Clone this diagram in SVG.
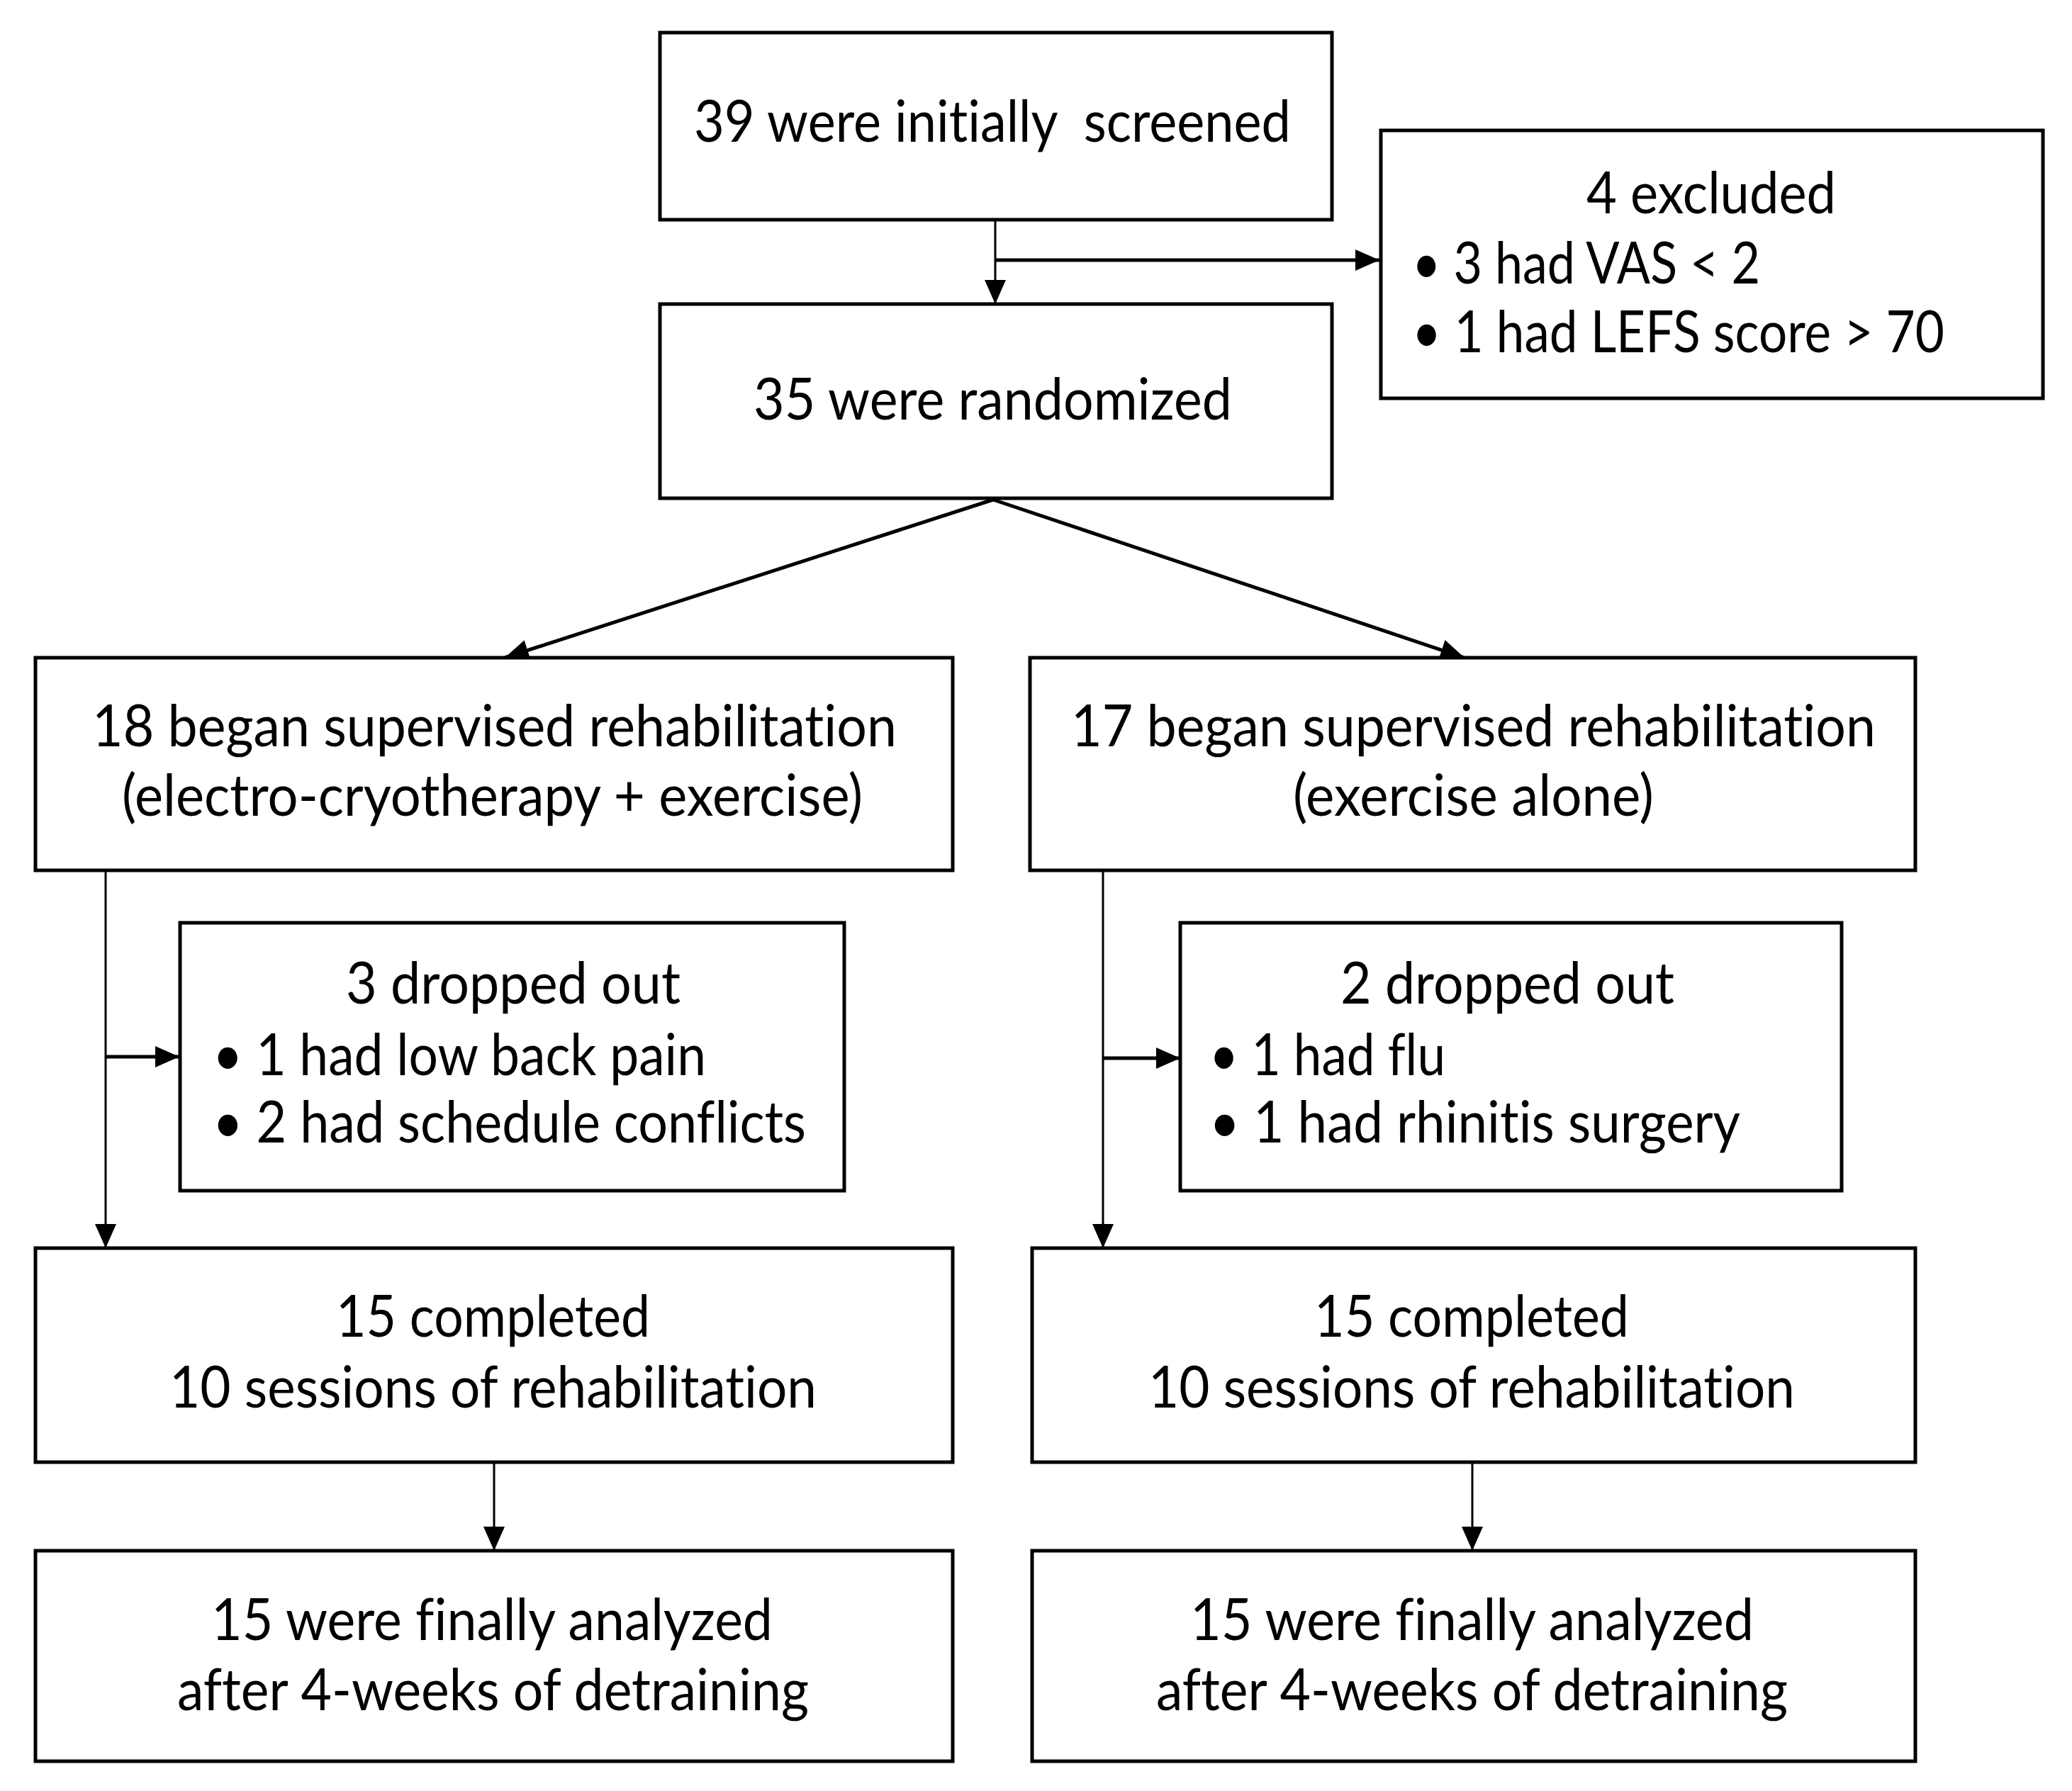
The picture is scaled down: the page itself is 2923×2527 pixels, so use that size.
<svg xmlns="http://www.w3.org/2000/svg" width="2923" height="2527" viewBox="0 0 2923 2527">
<style>
.box{fill:#fff;stroke:#000;stroke-width:5}
.t{font-family:Lato,"Open Sans","Liberation Sans",sans-serif;font-size:81px;fill:#000;font-variant-ligatures:none;font-feature-settings:"liga" 0,"dlig" 0}
.thin{fill:none;stroke:#000;stroke-width:3}
.thick{fill:none;stroke:#000;stroke-width:5}
</style>
<defs>
<marker id="ah" markerUnits="userSpaceOnUse" markerWidth="34" markerHeight="30" viewBox="0 0 34 30" refX="34" refY="15" orient="auto">
<path d="M0,0 L34,15 L0,30 z" fill="#000"/>
</marker>
</defs>
<rect width="2923" height="2527" fill="#fff"/>
<g id="connectors">
<path class="thin" d="M1404,310 V429" marker-end="url(#ah)"/>
<path class="thick" d="M1404,367 H1946" marker-end="url(#ah)"/>
<path class="thick" d="M1401,705 L712,928" marker-end="url(#ah)"/>
<path class="thick" d="M1401,705 L2066,928" marker-end="url(#ah)"/>
<path class="thin" d="M149,1228 V1761" marker-end="url(#ah)"/>
<path class="thick" d="M149,1491 H253" marker-end="url(#ah)"/>
<path class="thin" d="M1556,1228 V1761" marker-end="url(#ah)"/>
<path class="thick" d="M1556,1493 H1665" marker-end="url(#ah)"/>
<path class="thin" d="M697,2063 V2188" marker-end="url(#ah)"/>
<path class="thin" d="M2077,2063 V2188" marker-end="url(#ah)"/>
</g>
<g id="screened">
<rect class="box" x="931" y="46" width="948" height="264"/>
<text class="t" x="979" y="200" textLength="842" lengthAdjust="spacingAndGlyphs">39 were initially &#160;screened</text>
</g>
<g id="excluded">
<rect class="box" x="1948" y="184" width="934" height="378"/>
<text class="t" x="2238" y="301" textLength="352" lengthAdjust="spacingAndGlyphs">4 excluded</text>
<text class="t" x="1992" y="400" textLength="491" lengthAdjust="spacingAndGlyphs">• 3 had VAS &lt; 2</text>
<text class="t" x="1992" y="497" textLength="751" lengthAdjust="spacingAndGlyphs">• 1 had LEFS score &gt; 70</text>
</g>
<g id="randomized">
<rect class="box" x="931" y="429" width="948" height="274"/>
<text class="t" x="1063" y="592" textLength="675" lengthAdjust="spacingAndGlyphs">35 were randomized</text>
</g>
<g id="group1">
<rect class="box" x="50" y="928" width="1294" height="300"/>
<text class="t" x="130" y="1053" textLength="1135" lengthAdjust="spacingAndGlyphs">18 began supervised rehabilitation</text>
<text class="t" x="172" y="1151" textLength="1045" lengthAdjust="spacingAndGlyphs">(electro-cryotherapy + exercise)</text>
</g>
<g id="group2">
<rect class="box" x="1453" y="928" width="1249" height="300"/>
<text class="t" x="1511" y="1053" textLength="1135" lengthAdjust="spacingAndGlyphs">17 began supervised rehabilitation</text>
<text class="t" x="1824" y="1151" textLength="509" lengthAdjust="spacingAndGlyphs">(exercise alone)</text>
</g>
<g id="dropout1">
<rect class="box" x="254" y="1302" width="937" height="378"/>
<text class="t" x="488" y="1416" textLength="472" lengthAdjust="spacingAndGlyphs">3 dropped out</text>
<text class="t" x="300" y="1517" textLength="696" lengthAdjust="spacingAndGlyphs">• 1 had low back pain</text>
<text class="t" x="300" y="1612" textLength="837" lengthAdjust="spacingAndGlyphs">• 2 had schedule conflicts</text>
</g>
<g id="dropout2">
<rect class="box" x="1665" y="1302" width="933" height="378"/>
<text class="t" x="1891" y="1416" textLength="471" lengthAdjust="spacingAndGlyphs">2 dropped out</text>
<text class="t" x="1706" y="1517" textLength="333" lengthAdjust="spacingAndGlyphs">• 1 had flu</text>
<text class="t" x="1706" y="1612" textLength="749" lengthAdjust="spacingAndGlyphs">• 1 had rhinitis surgery</text>
</g>
<g id="completed1">
<rect class="box" x="50" y="1761" width="1294" height="302"/>
<text class="t" x="474" y="1886" textLength="443" lengthAdjust="spacingAndGlyphs">15 completed</text>
<text class="t" x="239" y="1986" textLength="913" lengthAdjust="spacingAndGlyphs">10 sessions of rehabilitation</text>
</g>
<g id="completed2">
<rect class="box" x="1456" y="1761" width="1246" height="302"/>
<text class="t" x="1854" y="1886" textLength="444" lengthAdjust="spacingAndGlyphs">15 completed</text>
<text class="t" x="1620" y="1986" textLength="912" lengthAdjust="spacingAndGlyphs">10 sessions of rehabilitation</text>
</g>
<g id="analyzed1">
<rect class="box" x="50" y="2188" width="1294" height="297"/>
<text class="t" x="298" y="2314" textLength="792" lengthAdjust="spacingAndGlyphs">15 were finally analyzed</text>
<text class="t" x="250" y="2413" textLength="891" lengthAdjust="spacingAndGlyphs">after 4-weeks of detraining</text>
</g>
<g id="analyzed2">
<rect class="box" x="1456" y="2188" width="1246" height="297"/>
<text class="t" x="1679" y="2314" textLength="795" lengthAdjust="spacingAndGlyphs">15 were finally analyzed</text>
<text class="t" x="1631" y="2413" textLength="891" lengthAdjust="spacingAndGlyphs">after 4-weeks of detraining</text>
</g>
</svg>
